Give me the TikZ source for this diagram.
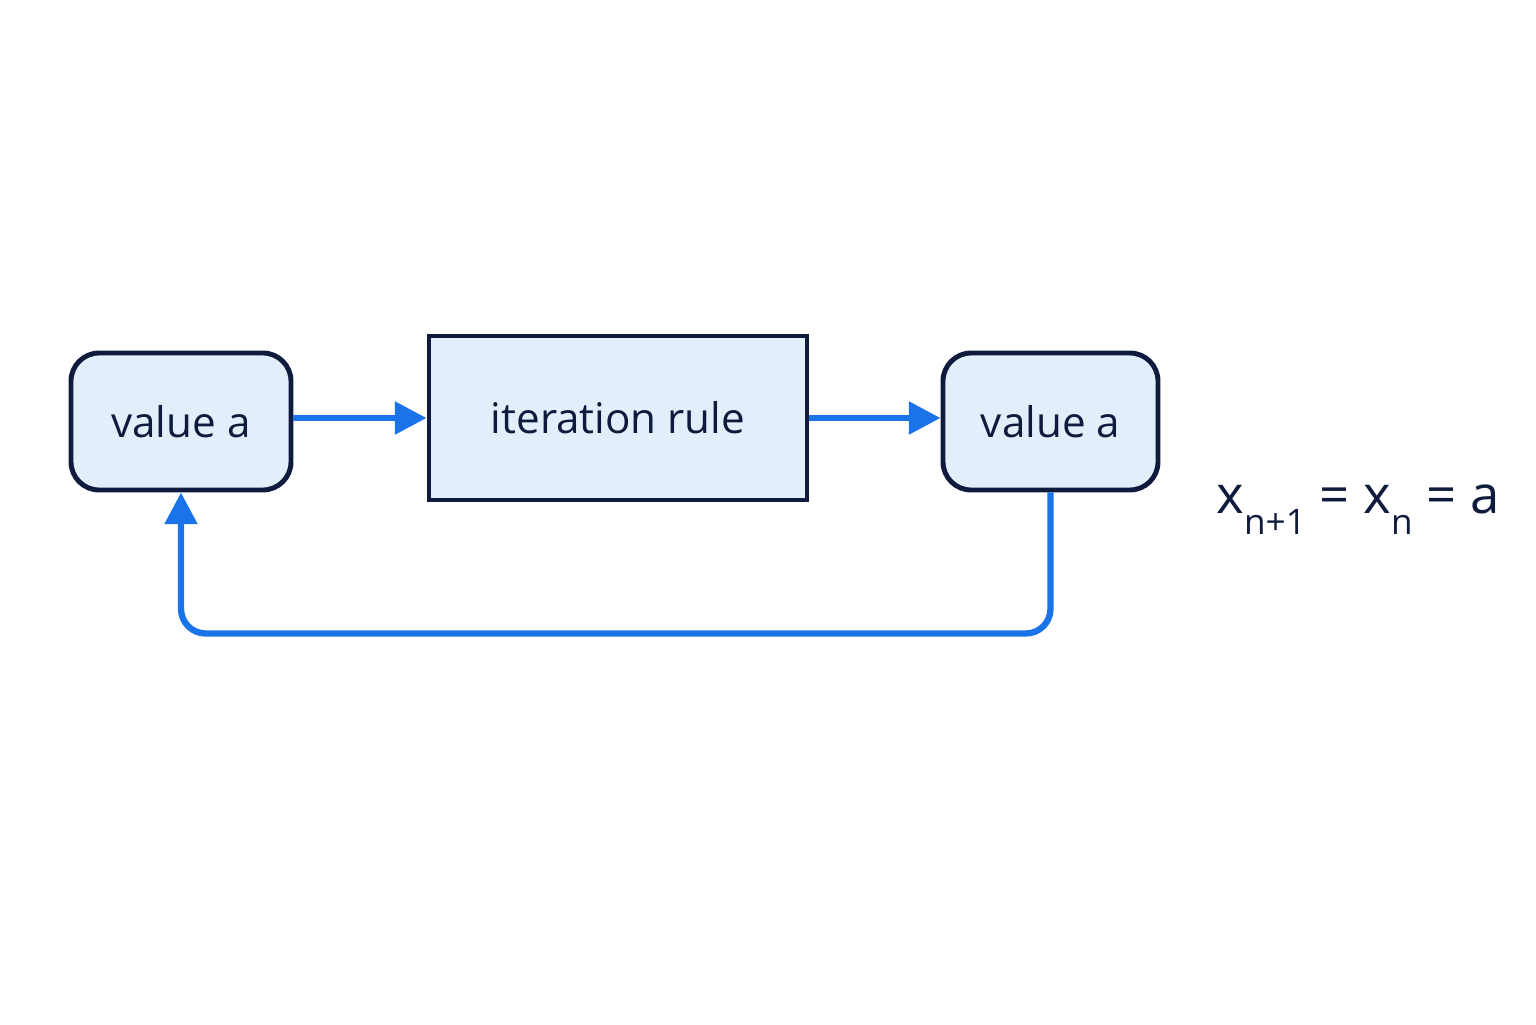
\documentclass[tikz,border=0pt]{standalone}
\usepackage{fontspec}
\setmainfont{Open Sans}
\usepackage{tikz}
\usetikzlibrary{arrows.meta,positioning}
\definecolor{boxfill}{HTML}{E3EEFB}
\definecolor{boxline}{HTML}{0F1B3D}
\definecolor{flowblue}{HTML}{1A73E8}
\newcommand{\lowsub}[1]{\raisebox{-0.75ex}{\fontsize{10pt}{12pt}\selectfont #1}}

\begin{document}
\begin{tikzpicture}[
    >=Triangle,
    every node/.style={font=\fontsize{12pt}{14pt}\selectfont, text=boxline},
    valuebox/.style={
        rectangle,
        rounded corners=8pt,
        draw=boxline,
        fill=boxfill,
        line width=1.4pt,
        minimum width=2.2cm,
        minimum height=1.37cm
    },
    rulebox/.style={
        rectangle,
        draw=boxline,
        fill=boxfill,
        line width=1.4pt,
        minimum width=3.78cm,
        minimum height=1.64cm
    },
    arrow/.style={flowblue, line width=1.8pt, arrows={-Triangle[length=9pt,width=9pt]}}
]
    \useasboundingbox (0,0) rectangle (15.36,10.24);

    % === MAIN CHAIN ===
    \node[valuebox] (start) at (1.81,6.025) {value a};
    \node[rulebox] (rule) at (6.18,6.06) {iteration rule};
    \node[valuebox, minimum width=2.15cm] (result) at (10.505,6.025) {value a};

    % Fixed point equation
    \node[font=\fontsize{15pt}{18pt}\selectfont] (fixed) at (13.58,5.14)
        {x\lowsub{n+1} = x\lowsub{n} = a};

    % Arrows
    \draw[arrow] (start.east |- rule.west) -- (rule.west);
    \draw[arrow] (rule.east) -- (result.west |- rule.east);

    % Feedback loop
    \draw[arrow, rounded corners=7pt] (result.south) -- ++(0,-1.41) -| (start.south);
\end{tikzpicture}
\end{document}
